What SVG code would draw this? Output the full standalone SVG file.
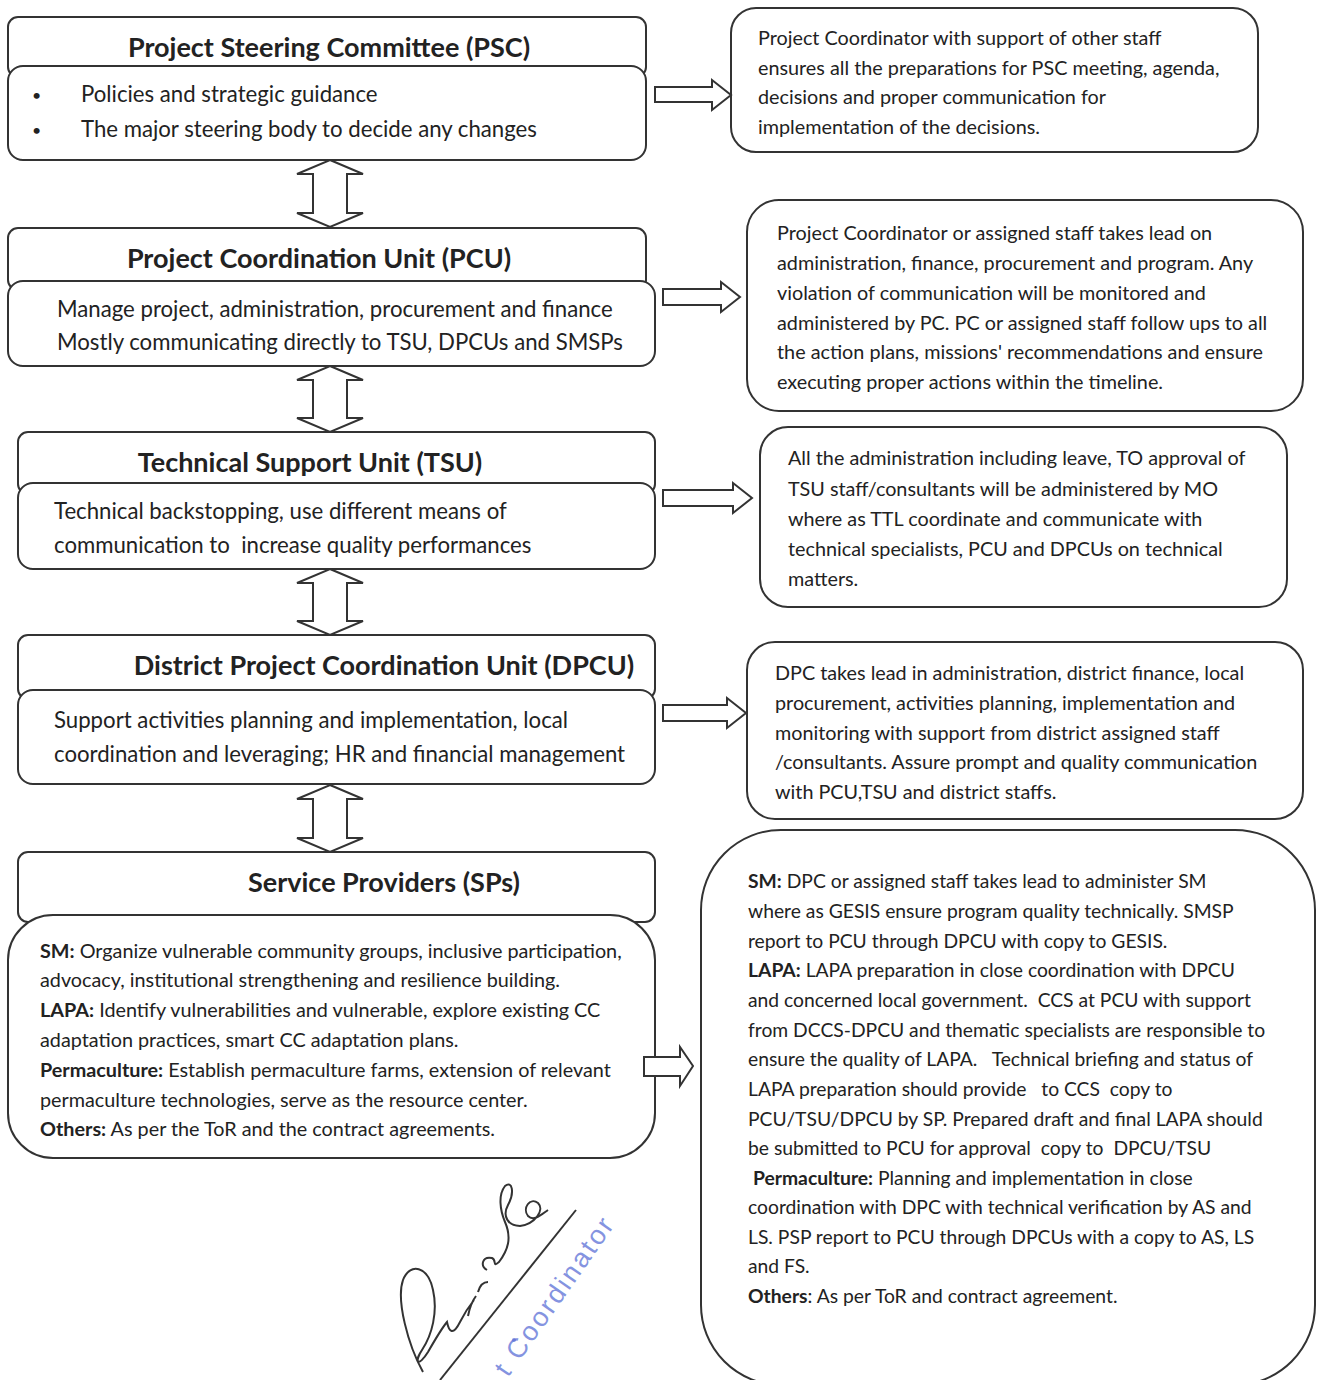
<svg xmlns="http://www.w3.org/2000/svg" width="1317" height="1380" viewBox="0 0 1317 1380">
<style>
.box{fill:#fff;stroke:#333;stroke-width:2}
.arr{fill:#fff;stroke:#333;stroke-width:2;stroke-linejoin:miter}
.t{font-family:Lato,"Liberation Sans",sans-serif;fill:#222;white-space:pre}
.title{font-size:27px;font-weight:bold}
.body{font-size:22.2px}
.bul{font-size:16px}
.note{font-size:19.8px}
.note2{font-size:19.3px}
.b{font-weight:bold}
</style>
<rect width="1317" height="1380" fill="#fff"/>

<g id="psc">
<rect class="box" x="8" y="17" width="638" height="60" rx="10"/>
<rect class="box" x="8" y="66" width="638" height="94" rx="15"/>
<text class="t title" x="329" y="57" text-anchor="middle">Project Steering Committee (PSC)</text>
<text class="t bul" x="32" y="101">•</text>
<text class="t body" x="81" y="102">Policies and strategic guidance</text>
<text class="t bul" x="32" y="136">•</text>
<text class="t body" x="81" y="137">The major steering body to decide any changes</text>
</g>

<g id="psc-note">
<rect class="box" x="731" y="8" width="527" height="144" rx="25"/>
<text class="t note" x="758" y="45">Project Coordinator with support of other staff</text>
<text class="t note" x="758" y="75">ensures all the preparations for PSC meeting, agenda,</text>
<text class="t note" x="758" y="104">decisions and proper communication for</text>
<text class="t note" x="758" y="134">implementation of the decisions.</text>
</g>

<g id="pcu">
<rect class="box" x="8" y="228" width="638" height="62" rx="10"/>
<rect class="box" x="8" y="281" width="647" height="85" rx="15"/>
<text class="t title" x="319" y="268" text-anchor="middle">Project Coordination Unit (PCU)</text>
<text class="t body" x="57" y="317">Manage project, administration, procurement and finance</text>
<text class="t body" x="57" y="350">Mostly communicating directly to TSU, DPCUs and SMSPs</text>
</g>

<g id="pcu-note">
<rect class="box" x="747" y="200" width="556" height="211" rx="32"/>
<text class="t note" x="777" y="240">Project Coordinator or assigned staff takes lead on</text>
<text class="t note" x="777" y="270">administration, finance, procurement and program. Any</text>
<text class="t note" x="777" y="300">violation of communication will be monitored and</text>
<text class="t note" x="777" y="330">administered by PC. PC or assigned staff follow ups to all</text>
<text class="t note" x="777" y="359">the action plans, missions' recommendations and ensure</text>
<text class="t note" x="777" y="389">executing proper actions within the timeline.</text>
</g>

<g id="tsu">
<rect class="box" x="18" y="432" width="637" height="62" rx="10"/>
<rect class="box" x="18" y="483" width="637" height="86" rx="15"/>
<text class="t title" x="310" y="472" text-anchor="middle">Technical Support Unit (TSU)</text>
<text class="t body" x="54" y="519">Technical backstopping, use different means of</text>
<text class="t body" x="54" y="553">communication to  increase quality performances</text>
</g>

<g id="tsu-note">
<rect class="box" x="760" y="427" width="527" height="180" rx="28"/>
<text class="t note" x="788" y="465">All the administration including leave, TO approval of</text>
<text class="t note" x="788" y="496">TSU staff/consultants will be administered by MO</text>
<text class="t note" x="788" y="526">where as TTL coordinate and communicate with</text>
<text class="t note" x="788" y="556">technical specialists, PCU and DPCUs on technical</text>
<text class="t note" x="788" y="586">matters.</text>
</g>

<g id="dpcu">
<rect class="box" x="18" y="635" width="637" height="64" rx="10"/>
<rect class="box" x="18" y="690" width="637" height="94" rx="15"/>
<text class="t title" x="384" y="675" text-anchor="middle">District Project Coordination Unit (DPCU)</text>
<text class="t body" x="54" y="728">Support activities planning and implementation, local</text>
<text class="t body" x="54" y="762">coordination and leveraging; HR and financial management</text>
</g>

<g id="dpcu-note">
<rect class="box" x="747" y="642" width="556" height="177" rx="28"/>
<text class="t note" x="775" y="680">DPC takes lead in administration, district finance, local</text>
<text class="t note" x="775" y="710">procurement, activities planning, implementation and</text>
<text class="t note" x="775" y="740">monitoring with support from district assigned staff</text>
<text class="t note" x="775" y="769">/consultants. Assure prompt and quality communication</text>
<text class="t note" x="775" y="799">with PCU,TSU and district staffs.</text>
</g>

<g id="sp">
<rect class="box" x="18" y="852" width="637" height="70" rx="10"/>
<rect class="box" x="8" y="915" width="647" height="243" rx="45"/>
<text class="t title" x="384" y="892" text-anchor="middle">Service Providers (SPs)</text>
<text class="t note" x="40" y="958"><tspan class="b">SM:</tspan> Organize vulnerable community groups, inclusive participation,</text>
<text class="t note" x="40" y="987">advocacy, institutional strengthening and resilience building.</text>
<text class="t note" x="40" y="1017"><tspan class="b">LAPA:</tspan> Identify vulnerabilities and vulnerable, explore existing CC</text>
<text class="t note" x="40" y="1047">adaptation practices, smart CC adaptation plans.</text>
<text class="t note" x="40" y="1077"><tspan class="b">Permaculture:</tspan> Establish permaculture farms, extension of relevant</text>
<text class="t note" x="40" y="1107">permaculture technologies, serve as the resource center.</text>
<text class="t note" x="40" y="1136"><tspan class="b">Others:</tspan> As per the ToR and the contract agreements.</text>
</g>

<g id="sp-note">
<rect class="box" x="701" y="830" width="614" height="555" rx="80"/>
<text class="t note2" x="748" y="888"><tspan class="b">SM:</tspan> DPC or assigned staff takes lead to administer SM</text>
<text class="t note2" x="748" y="918">where as GESIS ensure program quality technically. SMSP</text>
<text class="t note2" x="748" y="948">report to PCU through DPCU with copy to GESIS.</text>
<text class="t note2" x="748" y="977"><tspan class="b">LAPA:</tspan> LAPA preparation in close coordination with DPCU</text>
<text class="t note2" x="748" y="1007">and concerned local government.  CCS at PCU with support</text>
<text class="t note2" x="748" y="1037">from DCCS-DPCU and thematic specialists are responsible to</text>
<text class="t note2" x="748" y="1066">ensure the quality of LAPA.   Technical briefing and status of</text>
<text class="t note2" x="748" y="1096">LAPA preparation should provide   to CCS  copy to</text>
<text class="t note2" x="748" y="1126">PCU/TSU/DPCU by SP. Prepared draft and final LAPA should</text>
<text class="t note2" x="748" y="1155">be submitted to PCU for approval  copy to  DPCU/TSU</text>
<text class="t note2" x="753" y="1185"><tspan class="b">Permaculture:</tspan> Planning and implementation in close</text>
<text class="t note2" x="748" y="1214">coordination with DPC with technical verification by AS and</text>
<text class="t note2" x="748" y="1244">LS. PSP report to PCU through DPCUs with a copy to AS, LS</text>
<text class="t note2" x="748" y="1273">and FS.</text>
<text class="t note2" x="748" y="1303"><tspan class="b">Others</tspan>: As per ToR and contract agreement.</text>
</g>

<g id="connectors">
<path class="arr" d="M655,87 H712 V80 L731,95 L712,110 V102 H655 Z"/>
<path class="arr" d="M663,289 H721 V282 L740,297 L721,312 V305 H663 Z"/>
<path class="arr" d="M663,490 H733 V483 L752,498 L733,513 V506 H663 Z"/>
<path class="arr" d="M663,705 H727 V698 L746,713 L727,728 V721 H663 Z"/>
<path class="arr" d="M644,1057 H680 V1047 L693,1066 L680,1086 V1076 H644 Z"/>
<path class="arr" d="M330,160 L363,174 H347 V213 H363 L330,227 L297,213 H313 V174 H297 Z"/>
<path class="arr" d="M330,366 L363,380 H347 V418 H363 L330,432 L297,418 H313 V380 H297 Z"/>
<path class="arr" d="M330,569 L363,583 H347 V621 H363 L330,635 L297,621 H313 V583 H297 Z"/>
<path class="arr" d="M330,785 L363,799 H347 V838 H363 L330,852 L297,838 H313 V799 H297 Z"/>
</g>

<g id="signature">
<path d="M440,1380 L576,1210" fill="none" stroke="#333" stroke-width="2"/>
<path d="M423,1372 C408,1345 396,1300 403,1280 C410,1262 428,1266 433,1290 C438,1312 432,1335 422,1350 C414,1362 418,1368 428,1352 C436,1338 442,1328 447,1322 C449,1332 453,1336 460,1322 C466,1310 470,1305 474,1300 M468,1316 C470,1306 473,1300 476,1296 M478,1292 C480,1285 484,1282 488,1282 M487,1270 C480,1266 482,1256 492,1258 C497,1260 492,1268 499,1262 C508,1250 512,1238 505,1222 C500,1210 498,1195 505,1186 C512,1180 515,1192 508,1205 C502,1216 508,1226 520,1226 C535,1224 545,1210 538,1203 C530,1197 522,1208 528,1216 C534,1222 542,1214 548,1210" fill="none" stroke="#333" stroke-width="2"/>
<circle cx="514" cy="1340" r="2" fill="#5b6fd6" opacity="0.7"/>
<text x="508" y="1378" transform="rotate(-55 508 1378)" font-family="'Liberation Sans',sans-serif" font-size="27" letter-spacing="2.5" fill="#5b6fd6" opacity="0.75">t Coordinator</text>
</g>
</svg>
